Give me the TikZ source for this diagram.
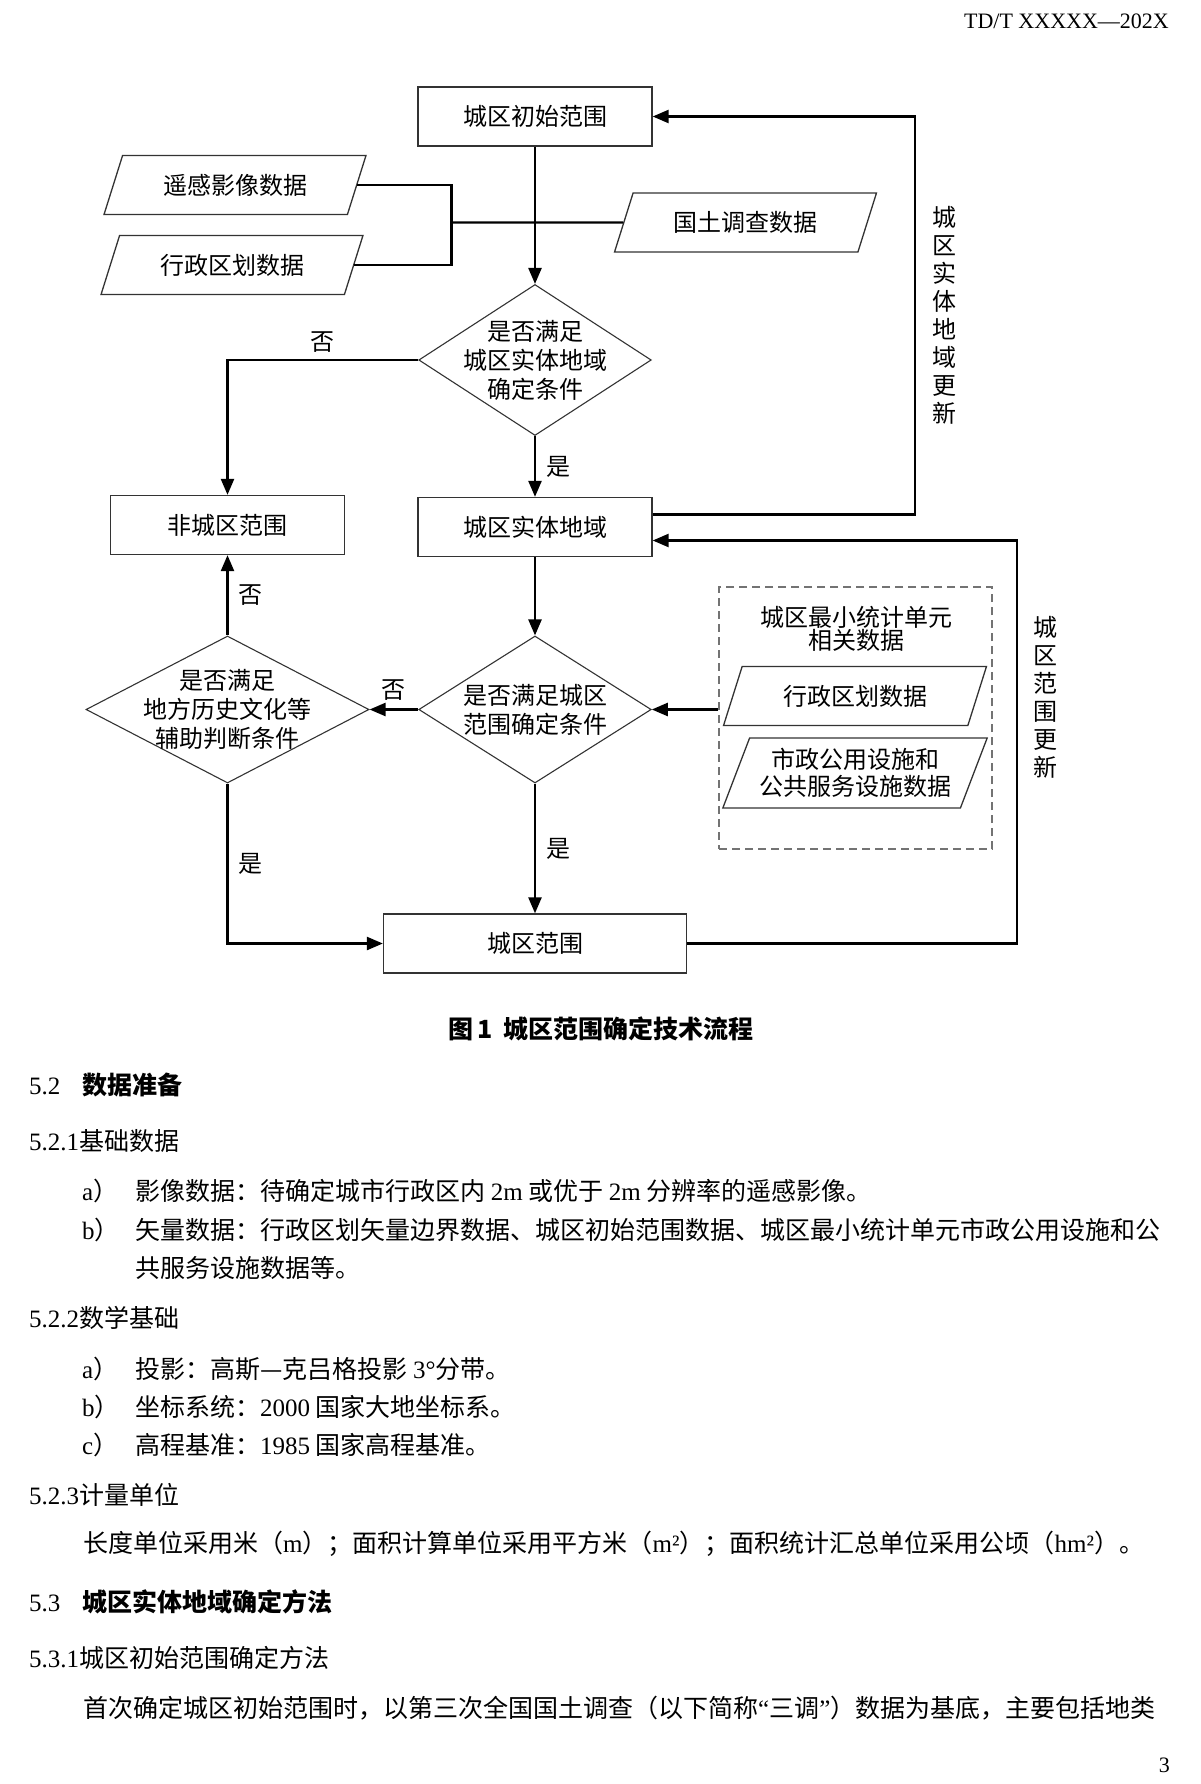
\documentclass[tikz,border=0pt]{standalone}
\usepackage{fontspec}
\setmainfont{Noto Sans CJK SC}
\newfontfamily\tn{Liberation Serif}
\usetikzlibrary{calc}
\usetikzlibrary{shapes.geometric}
\usetikzlibrary{arrows.meta}
\newcommand\lat[1]{{\tn #1}}

\begin{document}
\begin{tikzpicture}[x=1pt, y=-1pt, > = {Triangle[length=16pt,width=13pt]},
  box/.style = {draw=black!80, line width=1.3pt, minimum width=234pt, minimum height=59pt, font=\fontsize{24}{29}\selectfont},
  para/.style = {draw=black!80, line width=1.3pt, trapezium, trapezium left angle=65, trapezium right angle=115, trapezium stretches=true, minimum width=262pt, minimum height=59pt, inner sep=2pt, align=center, font=\fontsize{24}{27}\selectfont},
  dia/.style = {draw=black!80, line width=1.1pt, diamond, inner sep=-50pt, align=center, font=\fontsize{24}{29}\selectfont},
  lbl/.style = {font=\fontsize{24}{28}\selectfont, inner sep=2pt},
  link/.style = {line width=2.4pt},
  body/.style = {anchor=west, inner sep=0pt, font=\fontsize{25}{30}\selectfont}]
\useasboundingbox[fill=white] (0,0) rectangle (1200,1784);

\node[anchor=east, inner sep=0pt, font=\fontsize{22}{26}\selectfont\tn] (hdr) at (1169,21) {TD/T XXXXX—202X};

% flow chart
\node[box] (init) at (535,116.5) {城区初始范围};
\node[para] (rs) at (235,185) {遥感影像数据};
\node[para] (adm) at (232,265) {行政区划数据};
\node[para] (land) at (745.5,222.5) {国土调查数据};
\node[dia, minimum width=232.5pt, minimum height=151pt] (dq1) at (535,360) {是否满足\\城区实体地域\\确定条件};
\node[box] (ent) at (535,527) {城区实体地域};
\node[box] (non) at (227.5,525) {非城区范围};
\node[dia, minimum width=283pt, minimum height=147pt] (dq2) at (227.5,709.5) {是否满足\\地方历史文化等\\辅助判断条件};
\node[dia, minimum width=232.5pt, minimum height=147pt] (dq3) at (535,709.5) {是否满足城区\\范围确定条件};
\node[draw=black!55, line width=1.2pt, dash pattern=on 8pt off 5pt, minimum width=273pt, minimum height=262pt] (stat) at (855.5,718) {};
\node[lbl, align=center, font=\fontsize{24}{23}\selectfont] (stattl) at (856,629) {城区最小统计单元\\相关数据};
\node[para, minimum width=263pt] (adm2) at (855,696) {行政区划数据};
\node[para, minimum width=265pt, minimum height=70pt] (mun) at (855,773) {市政公用设施和\\公共服务设施数据};
\node[box, minimum width=303pt] (city) at (535,943.5) {城区范围};
\node[lbl, align=center] (upd1) at (944,315) {城\\区\\实\\体\\地\\域\\更\\新};
\node[lbl, align=center] (upd2) at (1045,697) {城\\区\\范\\围\\更\\新};

\coordinate (jn) at (451.5,222.5);
\draw[link] (rs.east) -| (jn) |- (adm.east);
\draw[link] (jn) -- (land.west);
\draw[link,->] (init) -- (dq1);
\draw[link,->] (dq1.west) -| node[lbl, pos=0.25, above=4pt] (no1) {否} (non.north);
\draw[link,->] (dq1) -- node[lbl, right=8pt] (yes1) {是} (ent);
\coordinate (fb1) at (915,300);
\draw[link,->] ($(ent.east)+(0,-12.5)$) -| (fb1) |- (init.east);
\draw[link,->] (ent) -- (dq3);
\draw[link,->] (dq3) -- node[lbl, above=6pt] (no2) {否} (dq2);
\draw[link,->] (dq2) -- node[lbl, right=8pt] (no3) {否} (non);
\draw[link,->] (dq3.east -| stat.west) -- (dq3.east);
\draw[link,->] (dq3) -- node[lbl, right=8pt] (yes2) {是} (city);
\draw[link,->] (dq2.south) |- node[lbl, pos=0.25, right=8pt] (yes3) {是} (city.west);
\coordinate (fb2) at (1017,700);
\draw[link,->] (city.east) -| (fb2) |- ($(ent.east)+(0,13.5)$);

\node[font=\fontsize{25}{30}\selectfont\bfseries] (cap) at (601,1029) {图\,1\hspace{10pt}城区范围确定技术流程};

% text below
\node[body] (h52) at (29,1085) {\lat{5.2}\hspace{22pt}{\bfseries 数据准备}};
\node[body] (h521) at (29,1141) {\lat{5.2.1}基础数据};
\node[body] (a1) at (82,1191) {\makebox[53pt][l]{\lat{a}）}影像数据：待确定城市行政区内 \lat{2m} 或优于 \lat{2m} 分辨率的遥感影像。};
\node[body] (b1) at (82,1230) {\makebox[53pt][l]{\lat{b}）}矢量数据：行政区划矢量边界数据、城区初始范围数据、城区最小统计单元市政公用设施和公};
\node[body] (b1c) at (135,1268) {共服务设施数据等。};
\node[body] (h522) at (29,1318) {\lat{5.2.2}数学基础};
\node[body] (a2) at (82,1369) {\makebox[53pt][l]{\lat{a}）}投影：高斯—克吕格投影 \lat{3°}分带。};
\node[body] (b2) at (82,1407) {\makebox[53pt][l]{\lat{b}）}坐标系统：\lat{2000} 国家大地坐标系。};
\node[body] (c2) at (82,1445) {\makebox[53pt][l]{\lat{c}）}高程基准：\lat{1985} 国家高程基准。};
\node[body] (h523) at (29,1495) {\lat{5.2.3}计量单位};
\node[body] (u1) at (83,1544) {长度单位采用米（\lat{m}）；面积计算单位采用平方米（\lat{m²}）；面积统计汇总单位采用公顷（\lat{hm²}）。};
\node[body] (h53) at (29,1602) {\lat{5.3}\hspace{22pt}{\bfseries 城区实体地域确定方法}};
\node[body] (h531) at (29,1658) {\lat{5.3.1}城区初始范围确定方法};
\node[body] (p1) at (83,1708) {首次确定城区初始范围时，以第三次全国国土调查（以下简称\lat{“}三调\lat{”}）数据为基底，主要包括地类};
\node[anchor=east, inner sep=0pt, font=\fontsize{22}{26}\selectfont\tn] (pg) at (1170,1765) {3};
\end{tikzpicture}
\end{document}
